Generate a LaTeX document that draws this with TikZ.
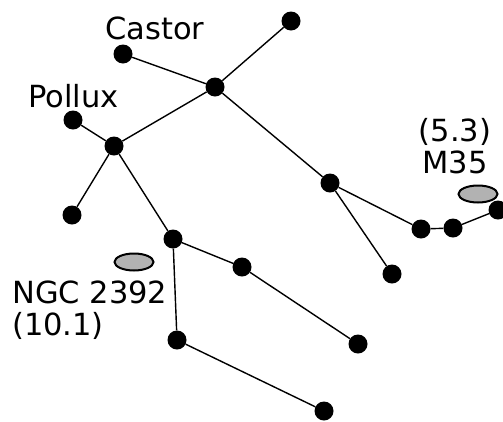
\documentclass[tikz,border=0pt]{standalone}
\usepackage{fontspec}
\setmainfont{DejaVu Sans}
\usetikzlibrary{shapes.geometric}
\begin{document}
\begin{tikzpicture}[x=1pt,y=-1pt,
  star/.style={circle,fill=black,minimum size=19pt,inner sep=0pt},
  link/.style={line width=1.4pt},
  cluster/.style={ellipse,draw=black,fill=black!30,line width=2pt,minimum width=39pt,minimum height=17pt,inner sep=0pt},
  lbl/.style={font=\fontsize{30.5}{36}\selectfont,inner sep=0pt}]
\useasboundingbox (0,0) rectangle (503,421);
\node[star] (a) at (291,21) {};
\node[star] (castor) at (123,54) {};
\node[star] (b) at (215,87) {};
\node[star] (pollux) at (73,120) {};
\node[star] (c) at (114,146) {};
\node[star] (d) at (72,215) {};
\node[star] (e) at (173,239) {};
\node[star] (f) at (242,267) {};
\node[star] (g) at (358,344) {};
\node[star] (h) at (177,340) {};
\node[star] (i) at (324,411) {};
\node[star] (j) at (330,183) {};
\node[star] (k) at (392,274) {};
\node[star] (l) at (421,229) {};
\node[star] (m) at (453,228) {};
\node[star] (n) at (498,210) {};
\node[cluster] (m35) at (478,194) {};
\node[cluster] (ngc) at (134,262) {};
\draw[link] (a) -- (b) (castor) -- (b) (b) -- (c) (pollux) -- (c) (c) -- (d)
  (c) -- (e) (e) -- (f) (f) -- (g) (e) -- (h) (h) -- (i)
  (b) -- (j) (j) -- (k) (j) -- (l) (l) -- (m) (m) -- (n);
\node[lbl,anchor=base west] (tcastor) at (105,39) {Castor};
\node[lbl,anchor=base west] (tpollux) at (28,107) {Pollux};
\node[lbl,anchor=base] (t53) at (455,141) {(5.3)};
\node[lbl,anchor=base] (tm35) at (455,173) {M35};
\node[lbl,anchor=base west] (tngc) at (12,303) {NGC 2392};
\node[lbl,anchor=base west] (t101) at (12,335) {(10.1)};
\end{tikzpicture}
\end{document}
